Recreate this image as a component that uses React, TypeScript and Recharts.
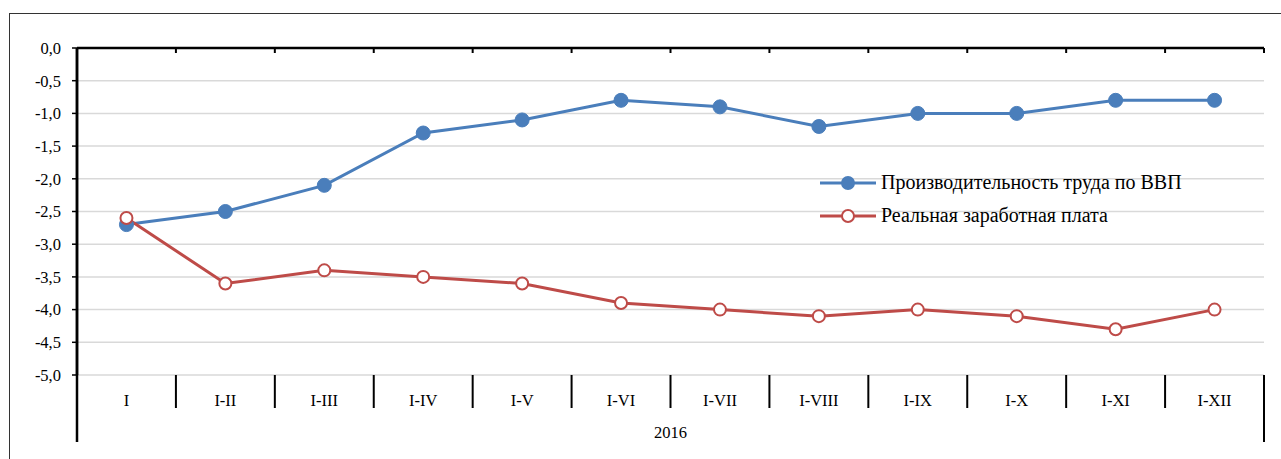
import React from 'react';
import { LineChart, Line, XAxis, YAxis, CartesianGrid, Legend, ReferenceLine } from 'recharts';

const categories = ['I', 'I-II', 'I-III', 'I-IV', 'I-V', 'I-VI', 'I-VII', 'I-VIII', 'I-IX', 'I-X', 'I-XI', 'I-XII'];
const productivity = [-2.7, -2.5, -2.1, -1.3, -1.1, -0.8, -0.9, -1.2, -1.0, -1.0, -0.8, -0.8];
const realWage = [-2.6, -3.6, -3.4, -3.5, -3.6, -3.9, -4.0, -4.1, -4.0, -4.1, -4.3, -4.0];
const yTicks = [0, -0.5, -1, -1.5, -2, -2.5, -3, -3.5, -4, -4.5, -5];
const yearLabel = '2016';
const seriesNames = ['Производительность труда по ВВП', 'Реальная заработная плата'];

const data = categories.map((cat, i) => ({ cat, productivity: productivity[i], realWage: realWage[i] }));

const W = 1281;
const H = 459;
const PLOT_LEFT = 77;
const PLOT_RIGHT = 1264;
const PLOT_TOP = 48;
const PLOT_BOTTOM = 375;
const SEP_BOTTOM = 408;
const AXIS_BOTTOM = 442;
const Y_AXIS_W = 60;
const BW = (PLOT_RIGHT - PLOT_LEFT) / categories.length;

const FONT = '"Liberation Serif", "Times New Roman", serif';
const BLUE = '#4a7ebb';
const RED = '#be4b48';

const BottomTick = (props: any) => {
  const { x, payload, index } = props;
  const left = x - BW / 2;
  const right = x + BW / 2;
  const last = categories.length - 1;
  return (
    <g>
      {index === 0 ? (
        <line x1={left} x2={left} y1={PLOT_TOP} y2={AXIS_BOTTOM} stroke="#000" strokeWidth={2.5} />
      ) : (
        <line x1={left} x2={left} y1={PLOT_BOTTOM} y2={SEP_BOTTOM} stroke="#000" strokeWidth={2} />
      )}
      {index === last && (
        <line x1={right} x2={right} y1={PLOT_BOTTOM} y2={AXIS_BOTTOM} stroke="#000" strokeWidth={2} />
      )}
      <line x1={right} x2={right} y1={PLOT_TOP} y2={PLOT_TOP + 5} stroke="#000" strokeWidth={2} />
      <text x={x} y={PLOT_BOTTOM + 31} textAnchor="middle" fontFamily={FONT} fontSize={16.5} fill="#000">
        {payload.value}
      </text>
    </g>
  );
};

const renderLegend = () => {
  const items = [
    { name: seriesNames[0], color: BLUE, fill: BLUE },
    { name: seriesNames[1], color: RED, fill: '#fff' },
  ];
  return (
    <div style={{ fontFamily: FONT, fontSize: 20, color: '#000' }}>
      {items.map((it) => (
        <div key={it.name} style={{ display: 'flex', alignItems: 'center', height: 33, whiteSpace: 'nowrap' }}>
          <svg width={56} height={16} style={{ marginRight: 5 }}>
            <line x1={0} x2={56} y1={8} y2={8} stroke={it.color} strokeWidth={3} />
            <circle cx={28} cy={8} r={6} fill={it.fill} stroke={it.color} strokeWidth={2} />
          </svg>
          <span>{it.name}</span>
        </div>
      ))}
    </div>
  );
};

export default function App() {
  return (
    <div style={{ position: 'absolute', left: 0, top: 0, width: W, height: H, background: '#fff', overflow: 'hidden' }}>
      <div
        style={{
          position: 'absolute',
          left: 9,
          top: 13,
          width: W,
          height: H,
          borderLeft: '1.5px solid #333',
          borderTop: '1.5px solid #333',
        }}
      />
      <div style={{ position: 'absolute', left: 0, top: 0 }}>
        <LineChart
          width={W}
          height={H}
          data={data}
          margin={{ top: PLOT_TOP, left: PLOT_LEFT - Y_AXIS_W, right: W - PLOT_RIGHT, bottom: H - AXIS_BOTTOM }}
        >
          <CartesianGrid vertical={false} stroke="#d9d9d9" strokeWidth={1.5} />
          <XAxis
            dataKey="cat"
            orientation="bottom"
            height={AXIS_BOTTOM - PLOT_BOTTOM}
            padding={{ left: BW / 2, right: BW / 2 }}
            axisLine={false}
            tickLine={false}
            interval={0}
            tick={<BottomTick />}
            label={{ value: yearLabel, position: 'insideBottom', offset: 4, fontFamily: FONT, fontSize: 16.5, fill: '#000' }}
          />
          <YAxis
            width={Y_AXIS_W}
            domain={[-5, 0]}
            ticks={yTicks}
            interval={0}
            stroke="#000"
            axisLine={{ stroke: '#000', strokeWidth: 2.5 }}
            tickLine={{ stroke: '#000', strokeWidth: 1.5 }}
            tickSize={5}
            tickMargin={11}
            tick={{ fontFamily: FONT, fontSize: 16.5, fill: '#000' }}
            tickFormatter={(v: number) => v.toFixed(1).replace('.', ',')}
          />
          <ReferenceLine y={0} stroke="#000" strokeWidth={2.5} />
          <Legend
            layout="vertical"
            align="center"
            verticalAlign="middle"
            content={renderLegend}
            wrapperStyle={{ left: 820, top: 166, width: 440 }}
          />
          <Line
            type="linear"
            dataKey="productivity"
            name={seriesNames[0]}
            stroke={BLUE}
            strokeWidth={3}
            dot={{ r: 7, fill: BLUE, stroke: BLUE, strokeWidth: 1 }}
            activeDot={false}
            isAnimationActive={false}
          />
          <Line
            type="linear"
            dataKey="realWage"
            name={seriesNames[1]}
            stroke={RED}
            strokeWidth={3}
            dot={{ r: 6, fill: '#fff', stroke: RED, strokeWidth: 2 }}
            activeDot={false}
            isAnimationActive={false}
          />
        </LineChart>
      </div>
    </div>
  );
}
